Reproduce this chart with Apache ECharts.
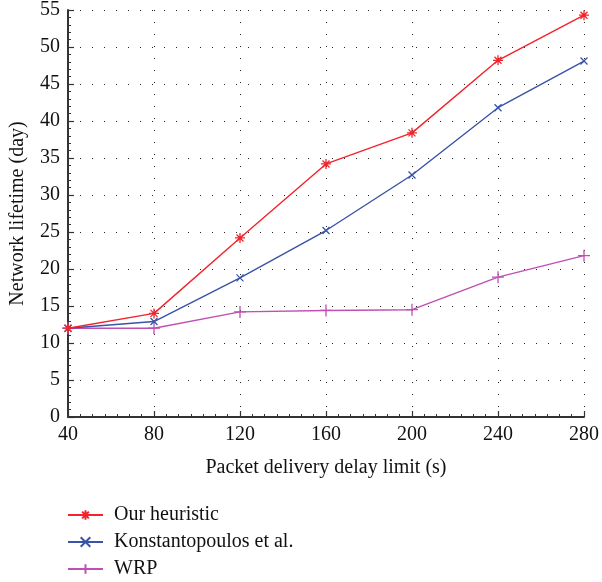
<!DOCTYPE html>
<html>
<head>
<meta charset="utf-8">
<script src="https://cdn.jsdelivr.net/npm/echarts@6/dist/echarts.min.js"></script>
<style>html,body{margin:0;padding:0;background:#fff}#c{width:602px;height:582px}</style>
</head>
<body>
<div id="c"></div>
<script>
const xValues = [40, 80, 120, 160, 200, 240, 280];
const ourHeuristic = [12, 14, 24.2, 34.2, 38.4, 48.2, 54.3];
const konstantopoulos = [12, 12.9, 18.8, 25.2, 32.7, 41.8, 48.1];
const wrp = [12, 12, 14.2, 14.4, 14.5, 18.9, 21.8];
const seriesNames = ['Our heuristic', 'Konstantopoulos et al.', 'WRP'];
const xTitle = 'Packet delivery delay limit (s)';
const yTitle = 'Network lifetime (day)';

const FONT = 'Liberation Serif';
const pairs = arr => xValues.map((x, i) => [x, arr[i]]);
const colors = ['#f2232b', '#3853a8', '#c04fb3'];
const symbols = [
  'path://M0,-10L0,10M-10,0L10,0M-7,-7L7,7M-7,7L7,-7',
  'path://M-10,-10L10,10M-10,10L10,-10',
  'path://M0,-10L0,10M-10,0L10,0'
];
const sizes = [10, 7, 12];
const dataSets = [ourHeuristic, konstantopoulos, wrp];
const legendTops = [505, 532, 559];

const chart = echarts.init(document.getElementById('c'), null, {renderer: 'canvas'});
const gridLine = {show: true, lineStyle: {color: '#222', type: [1, 11], width: 1}};
const axisCommon = {
  axisLine: {show: true, lineStyle: {color: '#333', width: 2}},
  axisTick: {show: true, inside: true, length: 6, lineStyle: {color: '#333', width: 1.2}},
  axisLabel: {fontFamily: FONT, fontSize: 20, color: '#111', margin: 8},
  nameTextStyle: {fontFamily: FONT, fontSize: 20, color: '#111'},
  splitLine: gridLine
};
chart.setOption({
  animation: false,
  backgroundColor: '#fff',
  textStyle: {fontFamily: FONT},
  grid: {left: 67, right: 16, top: 10, bottom: 165, containLabel: false},
  legend: seriesNames.map((n, i) => ({
    left: 67, top: legendTops[i], padding: 0, itemWidth: 35, itemHeight: 12, itemGap: 10,
    textStyle: {fontFamily: FONT, fontSize: 20, color: '#111', padding: [0, 0, 0, 6]},
    data: [n]
  })),
  xAxis: Object.assign({
    type: 'value', min: 40, max: 280, interval: 40,
    name: xTitle, nameLocation: 'middle', nameGap: 41,
    minorTick: {show: true, splitNumber: 7, length: 3, lineStyle: {color: '#333', width: 1}}
  }, axisCommon),
  yAxis: Object.assign({
    type: 'value', min: 0, max: 55, interval: 5,
    name: yTitle, nameLocation: 'middle', nameGap: 40,
    minorTick: {show: true, splitNumber: 5, length: 3, lineStyle: {color: '#333', width: 1}}
  }, axisCommon),
  series: dataSets.map((d, i) => ({
    name: seriesNames[i],
    type: 'line',
    data: pairs(d),
    symbol: symbols[i],
    symbolSize: sizes[i],
    showAllSymbol: true,
    lineStyle: {color: colors[i], width: 1.4},
    itemStyle: {color: colors[i], borderColor: colors[i], borderWidth: 1.3},
    z: 3 - i
  }))
});
</script>
</body>
</html>
